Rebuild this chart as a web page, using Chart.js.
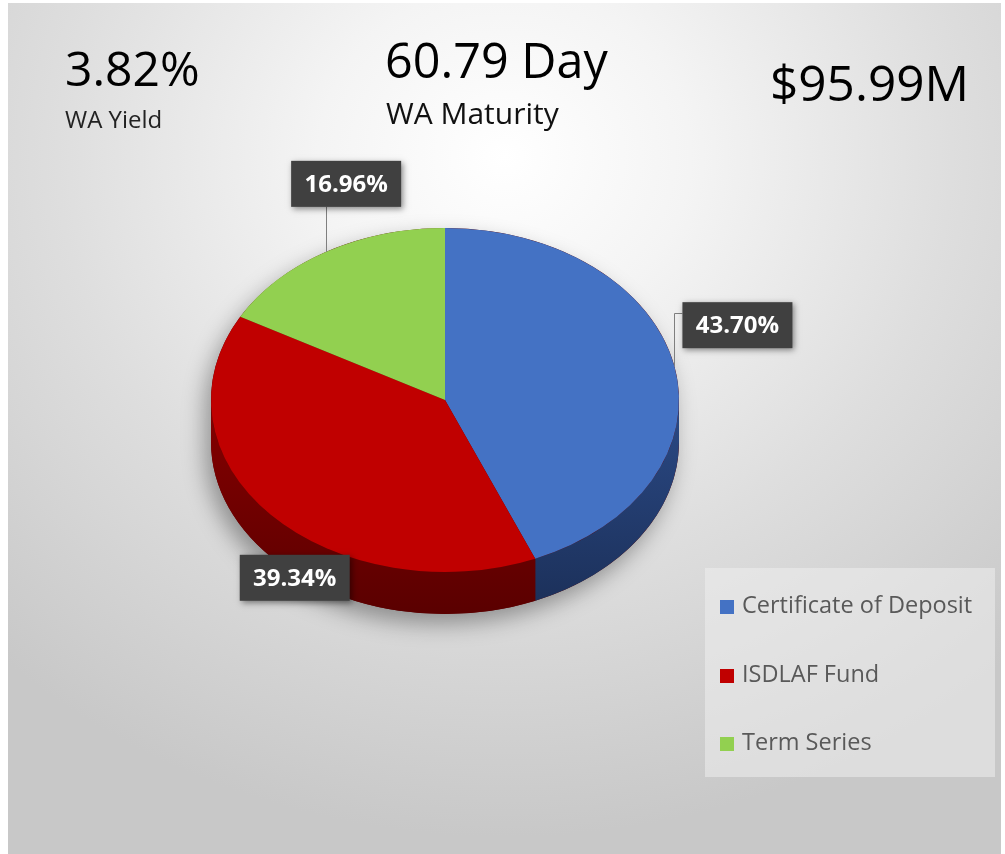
<!DOCTYPE html>
<html>
<head>
<meta charset="utf-8">
<script src="https://cdn.jsdelivr.net/npm/chart.js@4.4.1/dist/chart.umd.min.js"></script>
<style>
  body { margin: 0; background: #fff; }
  #wrap { position: relative; width: 1005px; height: 854px; overflow: hidden; font-family: "Open Sans", sans-serif; }
  #bg { position: absolute; left: 8px; top: 3px; width: 993px; height: 851px;
        background: radial-gradient(ellipse 75% 80% at 50% 18%, #ffffff 0%, #f4f4f4 25%, #dedede 60%, #c8c8c8 100%); }
  #myChart { position: absolute; left: 0; top: 0; }
  .kpi { position: absolute; line-height: 1; white-space: nowrap; color: #000; }
  #legend { position: absolute; left: 705px; top: 568px; width: 290px; height: 209px;
            background: rgba(238,238,238,0.55); }
  .item { position: absolute; left: 15px; height: 30px; line-height: 30px; font-size: 23.5px; color: #595959; white-space: nowrap; }
  .item span { display: inline-block; width: 14px; height: 14px; margin-right: 8px; vertical-align: -1px; }
</style>
</head>
<body>
<div id="wrap">
  <div id="bg"></div>
  <canvas id="myChart" width="1005" height="854"></canvas>
  <div class="kpi" style="left:65px; top:44px; font-size:48px;" id="k0"></div>
  <div class="kpi" style="left:65px; top:107px; font-size:24px; color:#222;" id="l0"></div>
  <div class="kpi" style="left:385px; top:35px; font-size:48.5px;" id="k1"></div>
  <div class="kpi" style="left:386px; top:98px; font-size:30px; color:#111;" id="l1"></div>
  <div class="kpi" style="left:770px; top:58px; font-size:49.5px;" id="k2"></div>
  <div id="legend"></div>
</div>
<script>
// donnees du graphique
const categories = ["Certificate of Deposit", "ISDLAF Fund", "Term Series"];
const shares = [43.70, 39.34, 16.96];
const topColors = ["#4472c4", "#c00000", "#92d050"];
const sideTop = ["#2b4a86", "#860000", "#5f8c30"];
const sideBottom = ["#1b2f58", "#5a0000", "#3f6020"];

// chiffres du haut
const kpiValues = ["3.82%", "60.79 Day", "$95.99M"];
const kpiLabels = ["WA Yield", "WA Maturity"];

const TILT = 0.735; // ellipse hauteur / largeur
const DEPTH = 42;   // epaisseur du camembert
// decalage de chaque etiquette par rapport au bord de sa part
const labelOffsets = [[63, -41], [24, 63], [20, -68]];

document.getElementById("k0").textContent = kpiValues[0];
document.getElementById("k1").textContent = kpiValues[1];
document.getElementById("k2").textContent = kpiValues[2];
document.getElementById("l0").textContent = kpiLabels[0];
document.getElementById("l1").textContent = kpiLabels[1];

// legende html
let legend = document.getElementById("legend");
categories.forEach(function (name, i) {
  let row = document.createElement("div");
  row.className = "item";
  row.style.top = (21 + i * 68.5) + "px";
  let sq = document.createElement("span");
  sq.style.background = topColors[i];
  row.appendChild(sq);
  row.appendChild(document.createTextNode(name));
  legend.appendChild(row);
});

// plugin pour faire le faux 3D
const pie3d = {
  id: "pie3d",
  beforeDatasetsDraw(chart) {
    const ctx = chart.ctx;
    const arcs = chart.getDatasetMeta(0).data;
    const cx = arcs[0].x, cy = arcs[0].y, r = arcs[0].outerRadius, ry = r * TILT;

    // ombre sous le camembert
    ctx.save();
    ctx.shadowColor = "rgba(0,0,0,0.35)";
    ctx.shadowBlur = 22;
    ctx.shadowOffsetX = -6;
    ctx.shadowOffsetY = 10;
    ctx.fillStyle = "#5a0000";
    ctx.beginPath();
    ctx.ellipse(cx, cy + DEPTH, r, ry, 0, 0, Math.PI);
    ctx.ellipse(cx, cy, r, ry, 0, Math.PI, 2 * Math.PI);
    ctx.closePath();
    ctx.fill();
    ctx.restore();

    // cotes visibles (moitie de devant)
    arcs.forEach(function (arc, i) {
      const a = Math.max(arc.startAngle, 0);
      const b = Math.min(arc.endAngle, Math.PI);
      if (a >= b) return;
      const g = ctx.createLinearGradient(0, cy, 0, cy + ry + DEPTH);
      g.addColorStop(0, sideTop[i]);
      g.addColorStop(1, sideBottom[i]);
      ctx.fillStyle = g;
      ctx.beginPath();
      ctx.ellipse(cx, cy, r, ry, 0, a, b);
      ctx.ellipse(cx, cy + DEPTH, r, ry, 0, b, a, true);
      ctx.closePath();
      ctx.fill();
    });

    // on ecrase le cercle en ellipse
    ctx.save();
    ctx.translate(0, cy);
    ctx.scale(1, TILT);
    ctx.translate(0, -cy);
  },
  afterDatasetsDraw(chart) {
    const ctx = chart.ctx;
    ctx.restore();
    const arcs = chart.getDatasetMeta(0).data;
    arcs.forEach(function (arc, i) {
      const mid = (arc.startAngle + arc.endAngle) / 2;
      const px = arc.x + arc.outerRadius * Math.cos(mid);
      const py = arc.y + arc.outerRadius * TILT * Math.sin(mid);
      const bx = px + labelOffsets[i][0];
      const by = py + labelOffsets[i][1];
      const w = 110, h = 46;
      const left = bx - w / 2, top = by - h / 2;

      // trait de rappel
      ctx.strokeStyle = "#7f7f7f";
      ctx.lineWidth = 1;
      if (px < left) {
        ctx.beginPath();
        ctx.moveTo(Math.round(px) + 0.5, py);
        ctx.lineTo(Math.round(px) + 0.5, Math.round(top + 11) + 0.5);
        ctx.lineTo(left, Math.round(top + 11) + 0.5);
        ctx.stroke();
      } else if (py > top + h) {
        ctx.beginPath();
        ctx.moveTo(Math.round(px) + 0.5, py);
        ctx.lineTo(Math.round(px) + 0.5, top + h);
        ctx.stroke();
      }

      ctx.save();
      ctx.shadowColor = "rgba(0,0,0,0.45)";
      ctx.shadowBlur = 6;
      ctx.shadowOffsetX = 2;
      ctx.shadowOffsetY = 2;
      ctx.fillStyle = "#404040";
      ctx.fillRect(left, top, w, h);
      ctx.restore();

      ctx.fillStyle = "#ffffff";
      ctx.font = "bold 24px 'Open Sans'";
      ctx.textAlign = "center";
      ctx.textBaseline = "middle";
      ctx.fillText(shares[i].toFixed(2) + "%", bx, by + 1);
    });
  }
};

const data = {
  labels: categories,
  datasets: [
    {
      data: shares,
      backgroundColor: topColors,
      borderWidth: 0,
    },
  ],
};

const config = {
  type: "pie",
  data: data,
  options: {
    responsive: false,
    animation: false,
    events: [],
    layout: {
      padding: { left: 211, right: 326, top: 166, bottom: 220 },
    },
    plugins: {
      legend: { display: false },
      tooltip: { enabled: false },
    },
  },
  plugins: [pie3d],
};

let context = document.getElementById("myChart").getContext("2d");
let chart = new Chart(context, config);
</script>
</body>
</html>
